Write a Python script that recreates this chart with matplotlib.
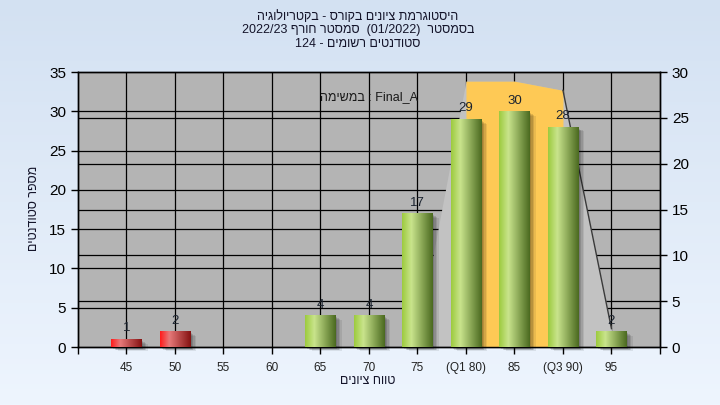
import re
import numpy as np
import matplotlib as mpl
mpl.use('Agg')
import matplotlib.pyplot as plt
import matplotlib.transforms as mtransforms
from matplotlib.patches import Rectangle
from matplotlib.colors import to_rgb

plt.rcParams['font.family'] = ['Liberation Sans', 'DejaVu Sans']

# Data
grades = [45, 50, 55, 60, 65, 70, 75, 80, 85, 90, 95]
counts = [1, 2, 0, 0, 4, 4, 17, 29, 30, 28, 2]
tick_labels = ['45', '50', '55', '60', '65', '70', '75', '(Q1 80)', '85', '(Q3 90)', '95']
pass_grade = 55
area_x = [75, 80, 85, 90, 95]
area_y = [1, 29, 29, 28, 2]
q1, q3 = 80, 90

title_lines = ['היסטוגרמת ציונים בקורס - בקטריולוגיה',
               'בסמסטר  (01/2022)  סמסטר חורף 2022/23',
               'סטודנטים רשומים - 124']
task_heb = 'במשימה'
task_name = 'Final_A'
ylabel = 'מספר סטודנטים'
xlabel = 'טווח ציונים'


def rtl(s):
    # matplotlib has no bidi, so build the visual order by hand
    toks = re.findall(r'[0-9A-Za-z_]+(?:[/.][0-9]+)*|[^0-9A-Za-z_]+', s)
    mirror = str.maketrans('()', ')(')
    out = []
    for t in reversed(toks):
        if re.match(r'[0-9A-Za-z_]', t):
            out.append(t)
        else:
            out.append(t[::-1].translate(mirror))
    return ''.join(out)


def gradient_row(stops, colors, n=64):
    pos = np.linspace(0, 1, n)
    cols = np.array([to_rgb(c) for c in colors])
    return np.stack([np.interp(pos, stops, cols[:, i]) for i in range(3)], axis=-1)[None, :, :]


fig = plt.figure(figsize=(7.2, 4.05), dpi=100)

# background gradient
bg = fig.add_axes([0, 0, 1, 1], zorder=-10)
top = np.array(to_rgb('#d3e1f2'))
bot = np.array(to_rgb('#eef5fe'))
t = np.linspace(0, 1, 200)[:, None]
bg.imshow((top * (1 - t) + bot * t)[:, None, :], aspect='auto', extent=[0, 1, 0, 1])
bg.axis('off')

ax = fig.add_axes([0.1083, 0.1432, 0.8083, 0.679])
ax2 = ax.twinx()
ax.set_zorder(ax2.get_zorder() + 1)
ax.patch.set_visible(False)
ax2.patch.set_visible(True)
ax2.set_facecolor('#b4b4b4')

ax.set_xlim(40, 100)
ax.set_ylim(0, 35)
ax2.set_ylim(0, 30)

# grid lines (drawn on the back axes so the area hides them)
left_tr = mtransforms.blended_transform_factory(ax2.transAxes, ax.transData)
for v in range(5, 35, 5):
    ax2.plot([0, 1], [v, v], color='black', lw=0.9, transform=left_tr, zorder=1)
for v in range(5, 30, 5):
    ax2.axhline(v, color='black', lw=0.9, zorder=1)
for g in grades:
    ax2.axvline(g, color='black', lw=0.9, zorder=1)

# area series on right axis
ax2.fill_between(area_x, area_y, color='#c2c2c2', lw=0, zorder=2)
ax2.fill_between(area_x, area_y, where=[(q1 <= x <= q3) for x in area_x],
                 color='#fec955', lw=0, zorder=3)
ax2.plot(area_x[-2:], area_y[-2:], color='#3a3a3a', lw=1.0, zorder=4)

# bars
w = 3.1
green = gradient_row([0, 0.3, 1], ['#9dcb3f', '#c9e48c', '#4b6a20'])
red = gradient_row([0, 0.3, 1], ['#ff1c1c', '#e77a7a', '#851212'])
for g, c in zip(grades, counts):
    if c == 0:
        continue
    for k, a in enumerate([0.12, 0.12, 0.10, 0.08]):
        ax.add_patch(Rectangle((g - w / 2 + 0.2 + 0.15 * k, -0.2 - 0.12 * k), w, c,
                               color='black', alpha=a, lw=0, zorder=3, clip_on=False))
    grad = red if g < pass_grade else green
    ax.imshow(grad, aspect='auto', extent=[g - w / 2, g + w / 2, 0, c], zorder=4,
              interpolation='bilinear')
    ax.text(g, c + 0.6, str(c), ha='center', va='bottom', fontsize=9.5, color='#1c2430', zorder=6)

ax.set_xlim(40, 100)
ax.set_ylim(0, 35)

ax.set_xticks(list(range(40, 105, 5)))
ax.set_xticklabels([''] + tick_labels + [''], fontsize=8.5, color='#222222')
ax.set_yticks(range(0, 40, 5))
ax.tick_params(axis='y', labelsize=11, length=5, width=1, colors='black')
ax.tick_params(axis='x', length=5, width=1, pad=6)
ax2.set_yticks(range(0, 35, 5))
ax2.tick_params(axis='y', labelsize=11, length=5, width=1)
for a in (ax, ax2):
    for s in a.spines.values():
        s.set_linewidth(1.0)
        s.set_color('black')

ax.text(0.5, 0.91, rtl(task_heb) + ' : ' + task_name, transform=ax.transAxes,
        ha='center', va='center', fontsize=9, color='#1a1a1a', zorder=6)

for i, line in enumerate(title_lines):
    fig.text(0.497, 1 - (17 + 13.5 * i) / 405, rtl(line), ha='center', va='center',
             fontsize=9, color='#14142a')

fig.text(34 / 720, 1 - 208 / 405, rtl(ylabel), rotation=90, ha='center', va='center',
         fontsize=9, color='#14142a')
fig.text(368 / 720, 1 - 381 / 405, rtl(xlabel), ha='center', va='center',
         fontsize=9, color='#14142a')

plt.savefig('out.png', dpi=100)
plt.close()
